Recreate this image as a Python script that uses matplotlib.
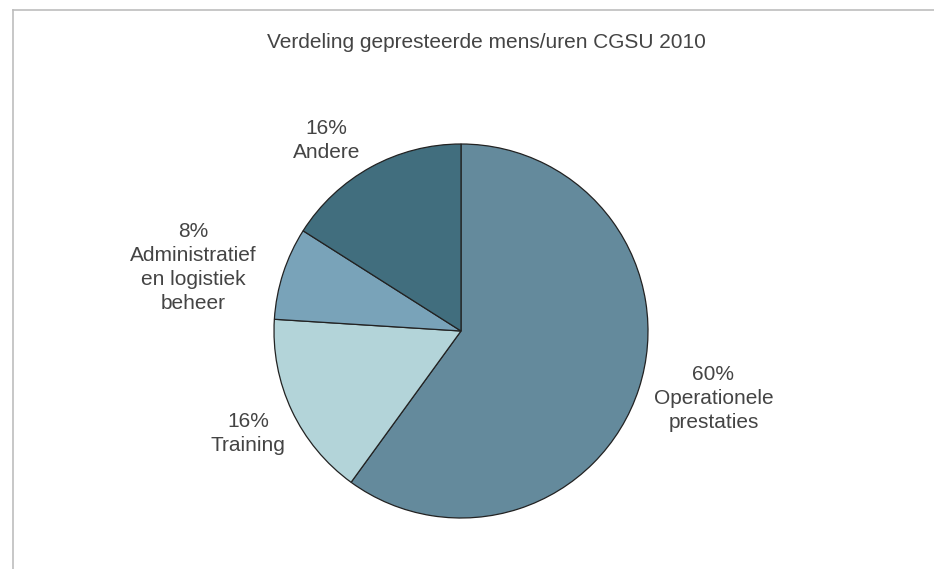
import matplotlib
matplotlib.use('Agg')
import matplotlib.pyplot as plt
from matplotlib.lines import Line2D

title = 'Verdeling gepresteerde mens/uren CGSU 2010'
categories = ['Operationele\nprestaties', 'Training',
              'Administratief\nen logistiek\nbeheer', 'Andere']
shares = [60, 16, 8, 16]
colors = ['#648a9c', '#b3d4d9', '#79a3b9', '#416e7e']

# label anchor points (axes data units, pie radius = 1)
label_pos = [(1.35, -0.36), (-1.14, -0.55), (-1.43, 0.34), (-0.72, 1.02)]

plt.rcParams['font.family'] = ['Liberation Sans', 'DejaVu Sans']
text_color = '#444444'

fig = plt.figure(figsize=(9.34, 5.69), dpi=100)
W, H = 934, 569

# frame lines on top and left
fig.add_artist(Line2D([13 / W, 1], [1 - 10 / H, 1 - 10 / H],
                      color='#bdbdbd', lw=1.2, transform=fig.transFigure))
fig.add_artist(Line2D([13 / W, 13 / W], [0, 1 - 10 / H],
                      color='#bdbdbd', lw=1.2, transform=fig.transFigure))

cx, cy, r = 461, 569 - 331, 187
ax = fig.add_axes([(cx - r) / W, (cy - r) / H, 2 * r / W, 2 * r / H])
wedges, _ = ax.pie(shares, colors=colors, startangle=90, counterclock=False,
                   radius=1, wedgeprops=dict(edgecolor='#222222', linewidth=0.9))
ax.set_xlim(-1, 1)
ax.set_ylim(-1, 1)
ax.set_aspect('equal')
ax.axis('off')

for cat, val, (x, y) in zip(categories, shares, label_pos):
    ax.text(x, y, f'{val}%\n{cat}', ha='center', va='center', fontsize=15,
            color=text_color, linespacing=1.35, clip_on=False)

fig.text(486 / W, 1 - 43 / H, title, ha='center', va='center',
         fontsize=15, color=text_color)

fig.savefig('out.png', dpi=100, facecolor='white')
